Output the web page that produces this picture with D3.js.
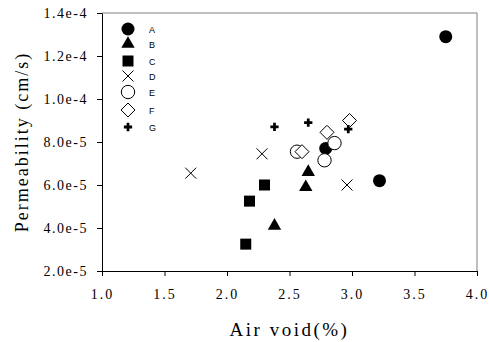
<!DOCTYPE html>
<html>
<head>
<meta charset="utf-8">
<script src="https://cdn.jsdelivr.net/npm/d3@7"></script>
<style>
  body { margin: 0; background: #fff; }
  text { fill: #000; }
</style>
</head>
<body>
<svg id="chart" width="489" height="342"></svg>
<script>
// data
const seriesNames = ['A', 'B', 'C', 'D', 'E', 'F', 'G'];
const airVoidA = [3.75, 3.22, 2.79];
const permA = [1.29e-4, 6.2e-5, 7.7e-5];
const airVoidB = [2.65, 2.63, 2.38];
const permB = [6.6e-5, 5.9e-5, 4.1e-5];
const airVoidC = [2.30, 2.18, 2.15];
const permC = [6.0e-5, 5.25e-5, 3.25e-5];
const airVoidD = [1.71, 2.28, 2.96];
const permD = [6.55e-5, 7.45e-5, 6.0e-5];
const airVoidE = [2.56, 2.86, 2.78];
const permE = [7.55e-5, 7.95e-5, 7.15e-5];
const airVoidF = [2.60, 2.80, 2.98];
const permF = [7.55e-5, 8.45e-5, 9.0e-5];
const airVoidG = [2.38, 2.65, 2.97];
const permG = [8.7e-5, 8.9e-5, 8.6e-5];
const xTicks = [1.0, 1.5, 2.0, 2.5, 3.0, 3.5, 4.0];
const yTicks = [2e-5, 4e-5, 6e-5, 8e-5, 1e-4, 1.2e-4, 1.4e-4];

const allX = [airVoidA, airVoidB, airVoidC, airVoidD, airVoidE, airVoidF, airVoidG];
const allY = [permA, permB, permC, permD, permE, permF, permG];

const margin = {top: 13, right: 12, bottom: 71, left: 102};
const width = 489, height = 342;

const svg = d3.select('#chart');

const x = d3.scaleLinear().domain([1, 4]).range([margin.left, width - margin.right]);
const y = d3.scaleLinear().domain([2e-5, 1.4e-4]).range([height - margin.bottom, margin.top]);

// marker paths
const markers = {
  A: {path: d3.symbol(d3.symbolCircle, 133)(), fill: '#000', stroke: 'none'},
  B: {path: d3.symbol(d3.symbolTriangle, 78)(), fill: '#000', stroke: 'none'},
  C: {path: d3.symbol(d3.symbolSquare, 121)(), fill: '#000', stroke: 'none'},
  D: {path: 'M-5.5,-5.5L5.5,5.5M-5.5,5.5L5.5,-5.5', fill: 'none', stroke: '#000'},
  E: {path: d3.symbol(d3.symbolCircle, 140)(), fill: '#fff', stroke: '#000'},
  F: {path: 'M0,-7L7,0L0,7L-7,0Z', fill: '#fff', stroke: '#000'},
  G: {path: d3.symbol(d3.symbolCross, 38)(), fill: '#000', stroke: 'none'}
};

// frame: top and right in grey
svg.append('path')
  .attr('d', `M${x(1)},${y(1.4e-4)}H${x(4)}V${y(2e-5)}`)
  .attr('fill', 'none')
  .attr('stroke', '#808080')
  .attr('stroke-width', 1);

const serif = '"Liberation Serif", "Times New Roman", serif';

const xAxis = svg.append('g')
  .attr('transform', `translate(0,${y(2e-5)})`)
  .call(d3.axisBottom(x).tickValues(xTicks).tickFormat(d3.format('.1f')).tickSize(5).tickSizeOuter(0));
xAxis.selectAll('text')
  .attr('dy', 0)
  .attr('y', 28)
  .style('font-family', serif)
  .style('font-size', '14px')
  .style('letter-spacing', '2px');

const yAxis = svg.append('g')
  .attr('transform', `translate(${x(1)},0)`)
  .call(d3.axisLeft(y).tickValues(yTicks).tickFormat(d => d.toExponential(1).replace('e', 'e')).tickSize(5).tickSizeOuter(0));
yAxis.selectAll('text')
  .attr('x', -14)
  .style('font-family', serif)
  .style('font-size', '14px')
  .style('letter-spacing', '1.5px');

svg.selectAll('.domain, .tick line').attr('stroke', '#000');

// axis titles
svg.append('text')
  .attr('x', (x(1) + x(4)) / 2)
  .attr('y', 336)
  .attr('text-anchor', 'middle')
  .style('font-family', serif)
  .style('font-size', '19px')
  .style('letter-spacing', '2.5px')
  .text('Air void(%)');

svg.append('text')
  .attr('transform', `translate(28,${(y(2e-5) + y(1.4e-4)) / 2}) rotate(-90)`)
  .attr('text-anchor', 'middle')
  .style('font-family', serif)
  .style('font-size', '18px')
  .style('letter-spacing', '2px')
  .text('Permeability (cm/s)');

// points
seriesNames.forEach((name, i) => {
  const m = markers[name];
  svg.append('g').selectAll('path')
    .data(allX[i].map((v, j) => [v, allY[i][j]]))
    .enter()
    .append('path')
    .attr('transform', d => `translate(${x(d[0])},${y(d[1])})`)
    .attr('d', m.path)
    .attr('fill', m.fill)
    .attr('stroke', m.stroke)
    .attr('stroke-width', 1);
});

// legend
const legendY = [29, 44, 61, 76, 92, 110, 127];
const legend = svg.selectAll('.legend')
  .data(seriesNames)
  .enter()
  .append('g')
  .attr('class', 'legend')
  .attr('transform', (d, i) => `translate(128,${legendY[i]})`);

legend.append('path')
  .attr('d', d => markers[d].path)
  .attr('fill', d => markers[d].fill)
  .attr('stroke', d => markers[d].stroke);

legend.append('text')
  .attr('x', 21)
  .attr('y', 3.5)
  .style('font-family', '"Liberation Sans", Arial, sans-serif')
  .style('font-size', '9px')
  .text(d => d);
</script>
</body>
</html>
